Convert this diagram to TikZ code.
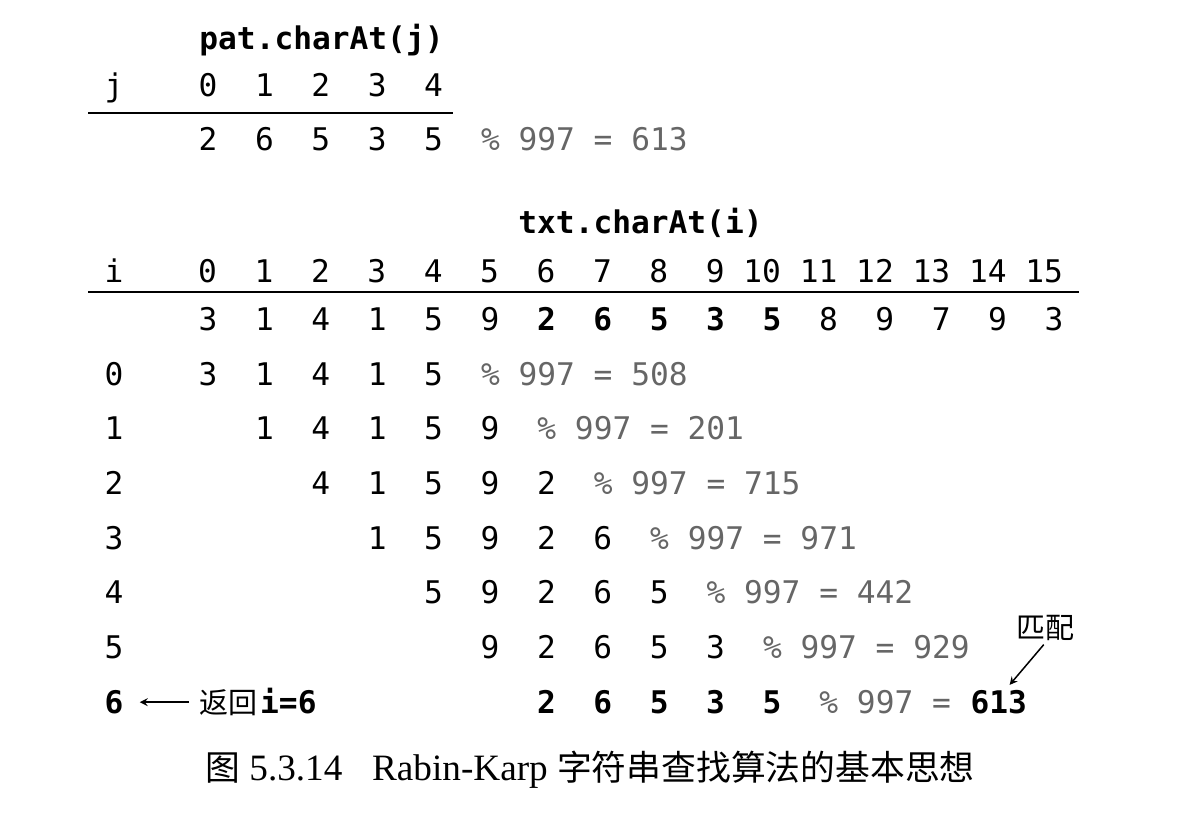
\documentclass[tikz,border=0pt]{standalone}
\usepackage{fontspec}
\setmainfont{Liberation Serif}
\setmonofont{DejaVu Sans Mono}
\newfontfamily\cjk{Noto Sans CJK SC}
\usetikzlibrary{positioning}

\begin{document}
\begin{tikzpicture}[x=0.5pt,y=-0.5pt,
	digit/.style={font=\ttfamily\fontsize{15.6}{18}\selectfont,inner sep=0pt,anchor=base},
	bdigit/.style={digit,font=\ttfamily\bfseries\fontsize{15.6}{18}\selectfont},
	modtxt/.style={digit,anchor=base west,text=black!60},
	cjknote/.style={font=\cjk\fontsize{14.5}{17}\selectfont,inner sep=1pt},
	pointer/.style={-stealth,line width=0.75pt},
	rule/.style={line width=1pt}]
	\useasboundingbox (0,0) rectangle (1202,818);
	\def\txtdigits{3,1,4,1,5,9,2,6,5,3,5,8,9,7,9,3}
	% pattern
	\node[bdigit,anchor=base west] (pathead) at (199,50) {pat.charAt(j)};
	\node[digit] (jlab) at (114,97) {j};
	\foreach \v [count=\k from 0] in {2,6,5,3,5} {
		\node[digit] (jn\k) at ({208+56.4*\k},97) {\k};
		\node[digit] (p\k) at ({208+56.4*\k},151) {\v};
	}
	\coordinate (pl) at (88,113);
	\coordinate (pr) at (453,113);
	\draw[rule] (pl) -- (pr);
	\node[modtxt] (pmod) at (480.6,151) {\% 997 = 613};
	% text
	\node[bdigit,anchor=base west] (txthead) at (518,233) {txt.charAt(i)};
	\node[digit] (ilab) at (114,282) {i};
	\foreach \k in {0,...,15}
		\node[digit,anchor=base east] (in\k) at ({217.4+56.4*\k},282) {\k};
	\coordinate (tl) at (88,292);
	\coordinate (tr) at (1079,292);
	\draw[rule] (tl) -- (tr);
	\foreach \v/\s [count=\k from 0] in {3/digit,1/digit,4/digit,1/digit,5/digit,9/digit,2/bdigit,6/bdigit,5/bdigit,3/bdigit,5/bdigit,8/digit,9/digit,7/digit,9/digit,3/digit}
		\node[\s] (t\k) at ({208+56.4*\k},330) {\v};
	% hashes of each window
	\foreach \r/\m in {0/508,1/201,2/715,3/971,4/442,5/929} {
		\node[digit] (r\r) at (114,{385+54.7*\r}) {\r};
		\foreach \c in {0,...,4} {
			\pgfmathtruncatemacro\k{\r+\c}
			\pgfmathtruncatemacro\d{{\txtdigits}[\k]}
			\node[digit] (d\r\c) at ({208+56.4*\k},{385+54.7*\r}) {\d};
		}
		\node[modtxt] (m\r) at ({480.6+56.4*\r},{385+54.7*\r}) {\% 997 = \m};
	}
	% the match
	\node[bdigit] (r6) at (114,713) {6};
	\node[cjknote,anchor=base west] (ret) at (197,713) {返回};
	\node[bdigit,base right=0pt of ret] (ret6) {i=6};
	\draw[pointer,shorten >=8pt,shorten <=4pt] (ret.west) -- (ret.west -| r6.east);
	\foreach \v [count=\k from 6] in {2,6,5,3,5}
		\node[bdigit] (h\k) at ({208+56.4*\k},713) {\v};
	\node[modtxt] (m6) at ({480.6+56.4*6},713) {\% 997 =};
	\node[bdigit,base right=9.4pt of m6] (hit) {613};
	\node[cjknote] (match) at (1045,628) {匹配};
	\draw[pointer,shorten <=1pt,shorten >=3pt] (match.south) -- (hit.60);
	% caption
	\node[font=\fontsize{18.6}{21}\selectfont] (cap) at (590,770)
		{{\cjk\fontsize{17.4}{21}\selectfont 图} 5.3.14\hspace{0.8em}Rabin-Karp {\cjk\fontsize{17.4}{21}\selectfont 字符串查找算法的基本思想}};
\end{tikzpicture}
\end{document}
